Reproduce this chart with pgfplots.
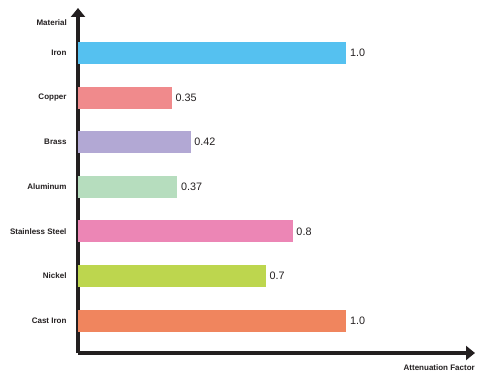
\documentclass[border=0pt]{standalone}
\usepackage{pgfplots}
\pgfplotsset{compat=1.18}
\usepackage{fontspec}
\setmainfont{Liberation Sans}
\usetikzlibrary{arrows.meta}
\definecolor{cIron}{HTML}{55C1F0}
\definecolor{cCopper}{HTML}{F08A8C}
\definecolor{cBrass}{HTML}{B2A8D4}
\definecolor{cAlum}{HTML}{B6DDBE}
\definecolor{cSteel}{HTML}{EC86B5}
\definecolor{cNickel}{HTML}{BDD64E}
\definecolor{cCast}{HTML}{F0855E}
\definecolor{axisblk}{HTML}{231F20}
\begin{document}
\begin{tikzpicture}
\path[use as bounding box] (0,0) rectangle (500bp,377bp);
\begin{axis}[
  at={(78bp,24bp)}, anchor=south west,
  scale only axis, width=397bp, height=345bp,
  xmin=0, xmax=1.4786, ymin=-0.729, ymax=7.01,
  axis lines=left,
  axis line style={draw=axisblk, line width=3bp, -{Triangle[length=9bp,width=14bp]}},
  xtick=\empty,
  ytick={0,1,2,3,4,5,6},
  yticklabels={Cast Iron,Nickel,Stainless Steel,Aluminum,Brass,Copper,Iron},
  major tick length=0pt,
  yticklabel style={font=\fontsize{8bp}{9.6bp}\selectfont\bfseries, text=axisblk, xshift=-8bp},
  xbar, bar width=22bp, bar shift=0pt,
  point meta=explicit symbolic,
  nodes near coords,
  nodes near coords style={font=\fontsize{10.8bp}{13bp}\selectfont, text=axisblk, anchor=west, inner sep=0pt, xshift=3.5bp},
  clip=false,
]
\addplot[fill=cCast, draw=none] coordinates {(1.0,0) [1.0]};
\addplot[fill=cNickel, draw=none] coordinates {(0.7,1) [0.7]};
\addplot[fill=cSteel, draw=none] coordinates {(0.8,2) [0.8]};
\addplot[fill=cAlum, draw=none] coordinates {(0.37,3) [0.37]};
\addplot[fill=cBrass, draw=none] coordinates {(0.42,4) [0.42]};
\addplot[fill=cCopper, draw=none] coordinates {(0.35,5) [0.35]};
\addplot[fill=cIron, draw=none] coordinates {(1.0,6) [1.0]};
\node[anchor=east, font=\fontsize{8bp}{9.6bp}\selectfont\bfseries, text=axisblk, inner sep=0pt] at (axis description cs:-0.0277,0.9565) {Material};
\node[anchor=east, font=\fontsize{8bp}{9.6bp}\selectfont\bfseries, text=axisblk, inner sep=0pt] at (axis description cs:1,-0.0426) {Attenuation Factor};
\end{axis}
\end{tikzpicture}
\end{document}
